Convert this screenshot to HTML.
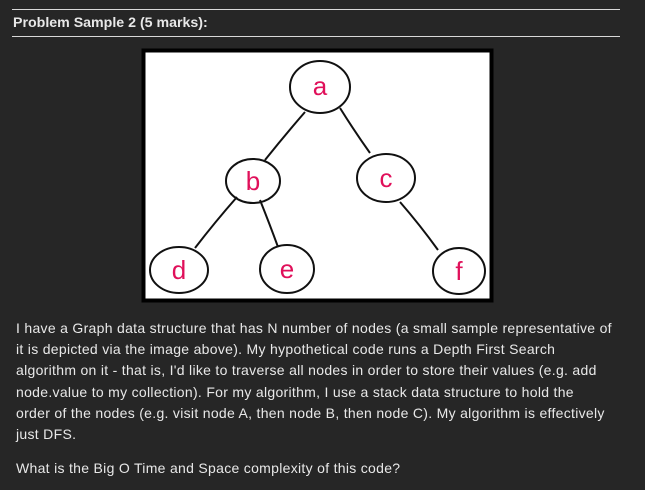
<!DOCTYPE html>
<html><head><meta charset="utf-8"><style>
body{margin:0;width:645px;height:490px;background:#262626;overflow:hidden;font-family:"Liberation Sans",sans-serif;color:#e8e8e8;position:relative}
.hr{position:absolute;left:12px;width:608px;height:1px;background:#d8d8d8}
.t{position:absolute;left:13px;top:15px;font-size:14.2px;font-weight:bold;letter-spacing:0px;white-space:nowrap}
.p{position:absolute;left:16px;top:318px;width:625px;font-size:14px;line-height:21.2px;letter-spacing:0.3px;white-space:nowrap}
</style></head><body>
<div class="hr" style="top:9px"></div>
<div class="t">Problem Sample 2 (5 marks):</div>
<div class="hr" style="top:36px"></div>
<svg style="position:absolute;left:0;top:0" width="645" height="490">
<rect x="143.5" y="50.5" width="348" height="250" fill="#fff" stroke="#000" stroke-width="4"/>
<g fill="none" stroke="#111" stroke-width="2">
<ellipse cx="320" cy="87" rx="30" ry="26"/>
<ellipse cx="253" cy="181" rx="27" ry="22"/>
<ellipse cx="386" cy="178" rx="29" ry="24"/>
<ellipse cx="179" cy="270" rx="29" ry="23"/>
<ellipse cx="287" cy="269" rx="27" ry="24"/>
<ellipse cx="459" cy="271" rx="26" ry="23"/>
<path d="M305 112 Q285 135 265 160"/>
<path d="M340 108 Q355 132 370 153"/>
<path d="M237 197 Q215 222 195 248"/>
<path d="M260 200 Q270 225 278 247"/>
<path d="M400 202 Q420 225 438 250"/>
</g>
<g fill="#e0105a" font-family="Liberation Sans,sans-serif" font-size="26" text-anchor="middle">
<text x="320" y="95">a</text><text x="253" y="190">b</text><text x="386" y="187">c</text>
<text x="179" y="279">d</text><text x="287" y="278">e</text><text x="459" y="280">f</text>
</g>
</svg>
<div class="p">I have a Graph data structure that has N number of nodes (a small sample representative of<br>it is depicted via the image above). My hypothetical code runs a Depth First Search<br>algorithm on it - that is, I'd like to traverse all nodes in order to store their values (e.g. add<br>node.value to my collection). For my algorithm, I use a stack data structure to hold the<br>order of the nodes (e.g. visit node A, then node B, then node C). My algorithm is effectively<br>just DFS.<div style="height:13px"></div>What is the Big O Time and Space complexity of this code?</div>
</body></html>
